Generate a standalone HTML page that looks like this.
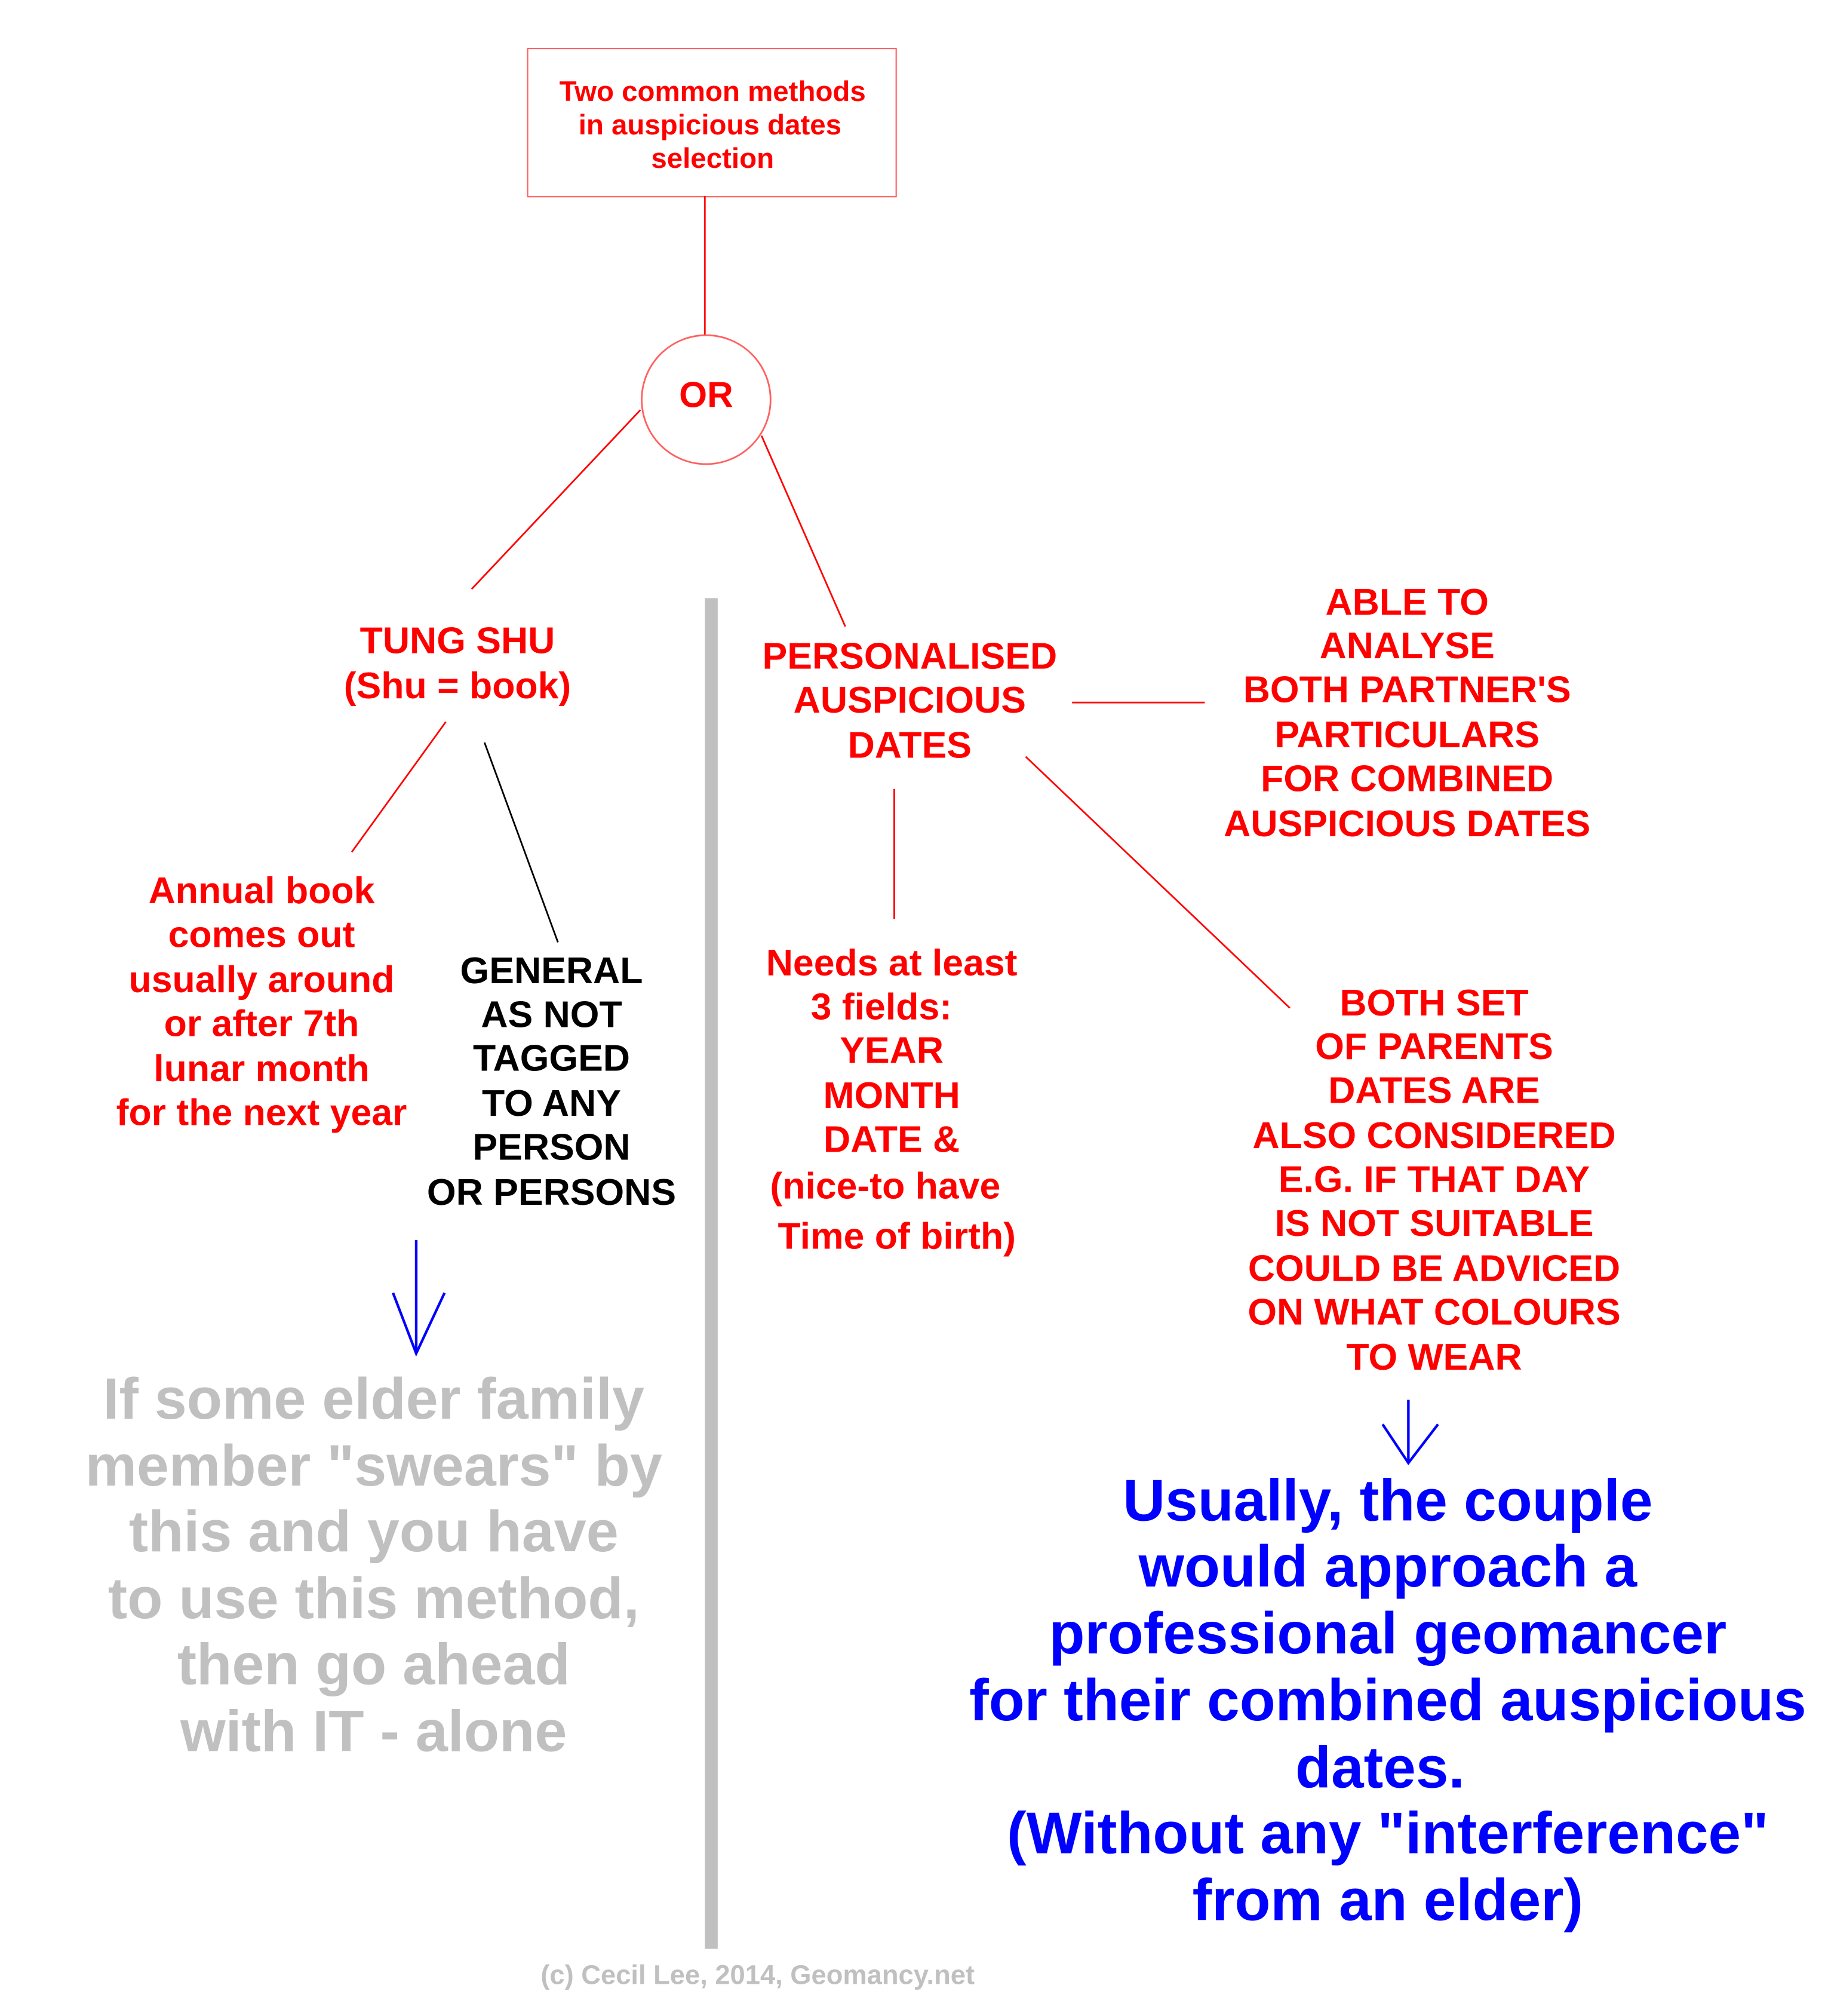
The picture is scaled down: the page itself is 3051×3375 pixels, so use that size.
<!DOCTYPE html>
<html><head><meta charset="utf-8"><style>
html,body{margin:0;padding:0;background:#fff}
svg{display:block}
text{font-family:"Liberation Sans","DejaVu Sans",sans-serif;font-weight:bold;text-anchor:middle;dominant-baseline:central}
.r{fill:#ff0000}.k{fill:#000}.g{fill:#c0c0c0}.b{fill:#0000ff}
</style></head><body>
<svg width="3051" height="3375" viewBox="0 0 1414 1564" xmlns="http://www.w3.org/2000/svg">
<rect x="0" y="0" width="1414" height="1564" fill="#fff"/>
<rect x="409.5" y="37.5" width="286" height="115" fill="none" stroke="#ff6060" stroke-width="1"/>
<g font-size="22">
<text x="553" y="71" class="r">Two common methods</text>
<text x="551" y="97" class="r">in auspicious dates</text>
<text x="553" y="123" class="r">selection</text>
</g>
<g stroke="#ff0000" stroke-width="1.3" fill="none">
<line x1="547" y1="152" x2="547" y2="260"/>
<circle cx="548" cy="310" r="50" stroke="#ff6060"/>
<line x1="497" y1="318" x2="366" y2="457"/>
<line x1="591" y1="338" x2="656" y2="486"/>
<line x1="346" y1="560" x2="273" y2="661"/>
<line x1="832" y1="545" x2="935" y2="545"/>
<line x1="694" y1="612" x2="694" y2="713"/>
<line x1="796" y1="587" x2="1001" y2="782"/>
</g>
<line x1="376" y1="576" x2="433" y2="731" stroke="#000" stroke-width="1.3"/>
<rect x="547" y="464" width="10" height="1048" fill="#c0c0c0"/>
<text x="548" y="306" font-size="28" class="r">OR</text>
<g font-size="29">
<text x="355" y="497" class="r">TUNG SHU</text>
<text x="355" y="532" class="r">(Shu = book)</text>
<text x="203" y="691" class="r">Annual book</text>
<text x="203" y="725" class="r">comes out</text>
<text x="203" y="760" class="r">usually around</text>
<text x="203" y="794" class="r">or after 7th</text>
<text x="203" y="829" class="r">lunar month</text>
<text x="203" y="863" class="r">for the next year</text>
<text x="428" y="753" class="k">GENERAL</text>
<text x="428" y="787" class="k">AS NOT</text>
<text x="428" y="821" class="k">TAGGED</text>
<text x="428" y="856" class="k">TO ANY</text>
<text x="428" y="890" class="k">PERSON</text>
<text x="428" y="925" class="k">OR PERSONS</text>
<text x="706" y="509" class="r">PERSONALISED</text>
<text x="706" y="543" class="r">AUSPICIOUS</text>
<text x="706" y="578" class="r">DATES</text>
<text x="1092" y="467" class="r">ABLE TO</text>
<text x="1092" y="501" class="r">ANALYSE</text>
<text x="1092" y="535" class="r">BOTH PARTNER'S</text>
<text x="1092" y="570" class="r">PARTICULARS</text>
<text x="1092" y="604" class="r">FOR COMBINED</text>
<text x="1092" y="639" class="r">AUSPICIOUS DATES</text>
<text x="692" y="747" class="r">Needs at least</text>
<text x="684" y="781" class="r">3 fields:</text>
<text x="692" y="815" class="r">YEAR</text>
<text x="692" y="850" class="r">MONTH</text>
<text x="692" y="884" class="r">DATE &amp;</text>
<text x="687" y="920" class="r">(nice-to have</text>
<text x="696" y="959" class="r">Time of birth)</text>
<text x="1113" y="778" class="r">BOTH SET</text>
<text x="1113" y="812" class="r">OF PARENTS</text>
<text x="1113" y="846" class="r">DATES ARE</text>
<text x="1113" y="881" class="r">ALSO CONSIDERED</text>
<text x="1113" y="915" class="r">E.G. IF THAT DAY</text>
<text x="1113" y="949" class="r">IS NOT SUITABLE</text>
<text x="1113" y="984" class="r">COULD BE ADVICED</text>
<text x="1113" y="1018" class="r">ON WHAT COLOURS</text>
<text x="1113" y="1053" class="r">TO WEAR</text>
</g>
<g stroke="#0000ff" stroke-width="2" fill="none">
<line x1="323" y1="962" x2="323" y2="1050"/>
<polyline points="305,1003 323,1050 345,1003"/>
<line x1="1093" y1="1086" x2="1093" y2="1135"/>
<polyline points="1073,1105 1093,1135 1116,1105"/>
</g>
<g font-size="45">
<text x="290" y="1085" class="g">If some elder family</text>
<text x="290" y="1137" class="g">member "swears" by</text>
<text x="290" y="1188" class="g">this and you have</text>
<text x="290" y="1240" class="g">to use this method,</text>
<text x="290" y="1291" class="g">then go ahead</text>
<text x="290" y="1343" class="g">with IT - alone</text>
</g>
<g font-size="45.5">
<text x="1077" y="1164" class="b">Usually, the couple</text>
<text x="1077" y="1215" class="b">would approach a</text>
<text x="1077" y="1267" class="b">professional geomancer</text>
<text x="1077" y="1319" class="b">for their combined auspicious</text>
<text x="1071" y="1371" class="b">dates.</text>
<text x="1077" y="1422" class="b">(Without any "interference"</text>
<text x="1077" y="1474" class="b">from an elder)</text>
</g>
<text x="588" y="1532" font-size="21" class="g">(c) Cecil Lee, 2014, Geomancy.net</text>
</svg>
</body></html>
